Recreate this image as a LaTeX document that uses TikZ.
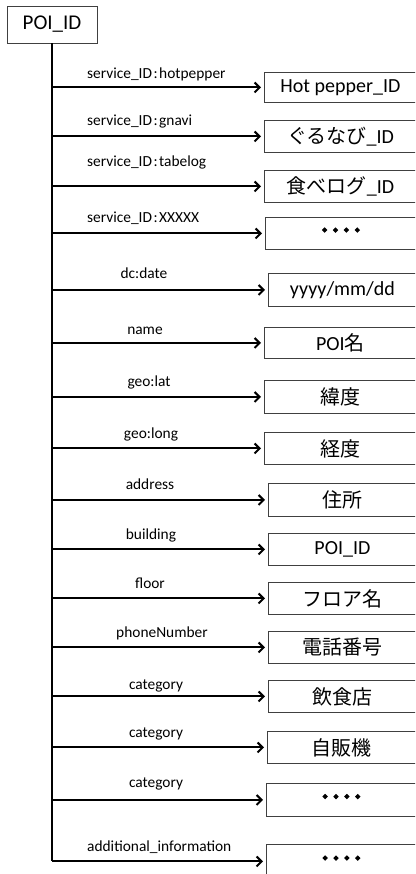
\documentclass[tikz,border=0pt]{standalone}
\usepackage{fontspec}
\setmainfont{Carlito}
\newfontfamily\jp{Noto Sans CJK JP}
\newfontfamily\jpdots[FakeBold=5]{Noto Sans CJK JP}
\usetikzlibrary{arrows.meta}
\newcommand{\colonsp}{\kern1.5pt:\kern1.5pt}
\newcommand{\fourdots}{{\jpdots\fontsize{23}{24}\selectfont ･\kern-0.6pt･\kern-0.6pt･\kern-0.6pt･}}
\begin{document}
\begin{tikzpicture}[x=1pt,y=-1pt,
 box/.style={draw=black!75, line width=0.9pt, anchor=north west, inner sep=0pt, font=\fontsize{20}{24}\selectfont},
 rootbox/.style={draw=black!75, line width=0.9pt, inner sep=0pt, minimum width=90pt, minimum height=37pt, font=\fontsize{21}{25}\selectfont},
 lbl/.style={anchor=base, inner sep=0pt, font=\fontsize{15.4}{18}\selectfont},
 lblw/.style={anchor=base west, inner sep=0pt, font=\fontsize{15.4}{18}\selectfont},
 arr/.style={line width=2pt, -{Straight Barb[length=5pt,width=10pt,line width=2pt]}, shorten >=3pt},
 trunk/.style={line width=2pt}]
\useasboundingbox (0,0) rectangle (415,874);
\clip (0,0) rectangle (415,874);

\node[rootbox] (root) at (52,24.5) {POI\_ID};

% boxes
\node[box, minimum width=152pt, minimum height=30pt] (b1) at (264,72) {Hot pepper\_ID};
\node[box, minimum width=152pt, minimum height=32pt] (b2) at (264,120) {{\jp ぐるなび}\_ID};
\node[box, minimum width=152pt, minimum height=32pt] (b3) at (264,170) {{\jp 食べログ}\_ID};
\node[box, minimum width=151pt, minimum height=32pt] (b4) at (265,217) {\fourdots};
\node[box, minimum width=148pt, minimum height=33pt] (b5) at (268,273) {yyyy/mm/dd};
\node[box, minimum width=152pt, minimum height=31pt] (b6) at (264,327) {POI{\jp 名}};
\node[box, minimum width=152pt, minimum height=33pt] (b7) at (264,380) {{\jp 緯度}};
\node[box, minimum width=152pt, minimum height=32pt] (b8) at (264,432) {{\jp 経度}};
\node[box, minimum width=148pt, minimum height=33pt] (b9) at (268,483) {{\jp 住所}};
\node[box, minimum width=148pt, minimum height=32pt] (b10) at (268,533) {POI\_ID};
\node[box, minimum width=148pt, minimum height=32pt] (b11) at (268,582) {{\jp フロア名}};
\node[box, minimum width=148pt, minimum height=32pt] (b12) at (268,631) {{\jp 電話番号}};
\node[box, minimum width=148pt, minimum height=32pt] (b13) at (268,680) {{\jp 飲食店}};
\node[box, minimum width=149pt, minimum height=32pt] (b14) at (267,731) {{\jp 自販機}};
\node[box, minimum width=150pt, minimum height=33pt] (b15) at (266,783) {\fourdots};
\node[box, minimum width=150pt, minimum height=34pt] (b16) at (266,844) {\fourdots};

% trunk
\draw[trunk] (root.south) -- (b16.west -| root.south);

% arrows
\foreach \i in {1,...,16}{
  \draw[arr] (b\i.west -| root.south) -- (b\i.west);
}

% labels
\node[lblw] (l1) at (87,79) {service\_ID\colonsp hotpepper};
\node[lblw] (l2) at (87,126) {service\_ID\colonsp gnavi};
\node[lblw] (l3) at (87,167) {service\_ID\colonsp tabelog};
\node[lblw] (l4) at (87,223) {service\_ID\colonsp XXXXX};
\node[lbl] (l5) at (144,279) {dc:date};
\node[lbl] (l6) at (145,334) {name};
\node[lbl] (l7) at (149,386) {geo:lat};
\node[lbl] (l8) at (151,438) {geo:long};
\node[lbl] (l9) at (150,489) {address};
\node[lbl] (l10) at (151,539) {building};
\node[lbl] (l11) at (150,588) {floor};
\node[lbl] (l12) at (162,637) {phoneNumber};
\node[lbl] (l13) at (156,689) {category};
\node[lbl] (l14) at (156,737) {category};
\node[lbl] (l15) at (156,787) {category};
\node[lblw] (l16) at (87,851) {additional\_information};
\end{tikzpicture}
\end{document}
